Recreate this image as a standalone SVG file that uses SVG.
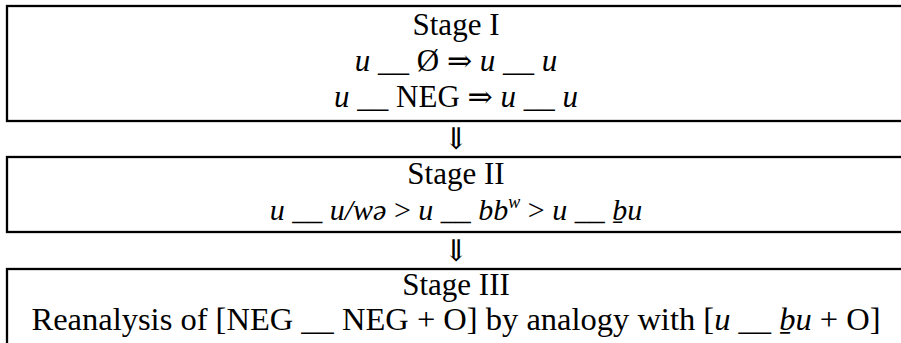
<svg xmlns="http://www.w3.org/2000/svg" width="901" height="343" viewBox="0 0 901 343">
<style>
.box{fill:none;stroke:#000;stroke-width:2.3}
text{font-family:"Liberation Serif","Times New Roman","DejaVu Serif",serif;font-size:31px;fill:#000;text-anchor:middle}
.i{font-style:italic}
.arr{font-family:"DejaVu Serif","Liberation Serif",serif;font-size:30px}
.rarr{font-family:"DejaVu Serif","Liberation Serif",serif;font-size:30px}
.sup{font-style:italic;font-size:18px}
.l2{font-size:30px}
.l3{font-size:32.5px}
</style>
<g id="stage1">
<rect class="box" x="7" y="6" width="920" height="115"/>
<text x="456" y="35">Stage I</text>
<text x="456" y="71"><tspan class="i">u</tspan> __ Ø <tspan class="rarr">⇒</tspan> <tspan class="i">u</tspan> __ <tspan class="i">u</tspan></text>
<text x="456" y="107"><tspan class="i">u</tspan> __ NEG <tspan class="rarr">⇒</tspan> <tspan class="i">u</tspan> __ <tspan class="i">u</tspan></text>
</g>
<g id="stage2">
<rect class="box" x="7" y="157" width="920" height="75"/>
<text x="456" y="184">Stage II</text>
<text class="l2" x="456" y="220"><tspan class="i">u</tspan> __ <tspan class="i">u/wə</tspan> &gt; <tspan class="i">u</tspan> __ <tspan class="i">bb</tspan><tspan class="sup" dy="-12">w</tspan><tspan dy="12"> &gt; </tspan><tspan class="i">u</tspan> __ <tspan class="i">ḇu</tspan></text>
</g>
<g id="stage3">
<rect class="box" x="7" y="269" width="920" height="100"/>
<text x="456" y="295">Stage III</text>
<text class="l3" x="456" y="330">Reanalysis of [NEG __ NEG + O] by analogy with [<tspan class="i">u</tspan> __ <tspan class="i">ḇu</tspan> + O]</text>
</g>
<g id="connectors">
<text class="arr" x="456" y="149">⇓</text>
<text class="arr" x="456" y="261">⇓</text>
</g>
</svg>
